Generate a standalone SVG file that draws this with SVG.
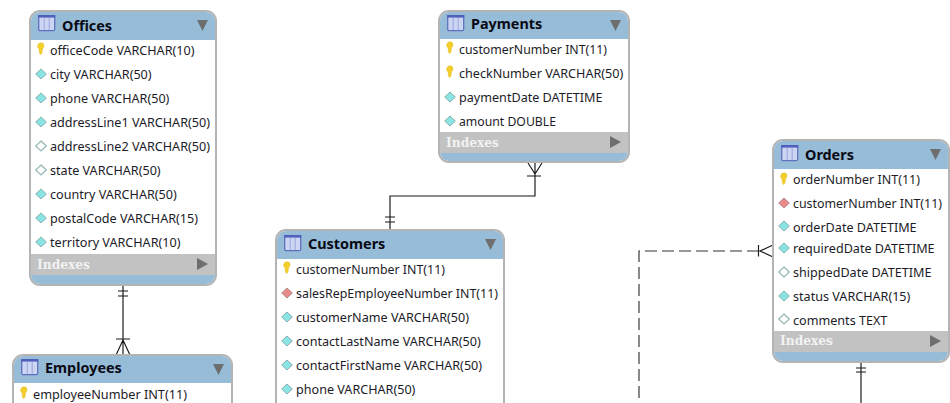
<svg xmlns="http://www.w3.org/2000/svg" width="950" height="403" viewBox="0 0 950 403">
<style>
.box{fill:#fff;stroke:#b4b4b4;stroke-width:2}
.hd{fill:#96bcd8}
.ix{fill:#c2c2c2}
.ttl{font:bold 14.4px "Noto Sans","Liberation Sans",sans-serif;fill:#0a0a14}
.row{font:12.6px "Noto Sans","Liberation Sans",sans-serif;fill:#1c1c28}
.idx{font:bold 13px "DejaVu Serif","Liberation Serif",serif;fill:#f2f2f2}
.tri{fill:#6e6e6e}
.cn{fill:none;stroke:#161616;stroke-width:1.15}
.ds{stroke-dasharray:12 5;stroke:#333}
</style>
<defs>
<g id="tbl"><rect x="0.7" y="0.7" width="16" height="15" rx="1.5" fill="#ccd5f2" stroke="#6070c0" stroke-width="1.3"/><rect x="0" y="0" width="17.4" height="2.600" fill="#5060bc"/><path d="M6.200 3v12M11.200 3v12" stroke="#9aa6dc" stroke-width="1"/></g>
<g id="key"><path d="M-3 -3.200a3 3 0 0 1 6 0c0 1.500-.8 2.300-1.500 3l-.5 4.300-1.500 1.500-1-1.500-.5-4.300c-.8-.7-1.500-1.500-1.500-3z" fill="#f4cf2c" stroke="#dcb81e" stroke-width=".5"/></g>
<path id="dia" d="M0 -5L5.300 0L0 5L-5.300 0z" fill="#8ae4e4" stroke="#86aeae" stroke-width="1"/>
<path id="dio" d="M0 -5L5.300 0L0 5L-5.300 0z" fill="#fff" stroke="#94b6b6" stroke-width="1.200"/>
<path id="dif" d="M0 -5L5.300 0L0 5L-5.300 0z" fill="#e68a8a" stroke="#b48888" stroke-width="1"/>
</defs>
<g id="connectors">
<path class="cn" d="M123 285V354M118 291H128M118 296H128M116 339H130M123 340L116.500 354M123 340L129.500 354"/>
<path class="cn" d="M535 163V196H390V230M385 217H395M385 222H395M527 176H541M535 174L528 163M535 174L542 163"/>
<path class="cn ds" d="M759 251H639V403"/>
<path class="cn" d="M758.500 245V256.500M773 245L760 251L773 257"/>
<path class="cn" d="M861 362V403M856 368H866M856 372H866"/>
</g>
<g id="offices">
<rect class="box" x="30" y="11" width="186" height="274" rx="10"/>
<path class="hd" d="M31 40V21a9 9 0 0 1 9-9H206a9 9 0 0 1 9 9V40z"/>
<path class="hd" d="M31 274V275a9 9 0 0 0 9 9H206a9 9 0 0 0 9-9V274z"/>
<rect class="ix" x="31" y="254" width="184" height="21"/>
<use href="#tbl" x="38" y="15"/>
<text class="ttl" x="62" y="31">Offices</text>
<path class="tri" d="M197 20H208L202.500 31z"/>
<use href="#key" x="41" y="49"/><text class="row" x="50" y="55">officeCode VARCHAR(10)</text>
<use href="#dia" x="41" y="74"/><text class="row" x="50" y="79">city VARCHAR(50)</text>
<use href="#dia" x="41" y="98"/><text class="row" x="50" y="103">phone VARCHAR(50)</text>
<use href="#dia" x="41" y="122"/><text class="row" x="50" y="127">addressLine1 VARCHAR(50)</text>
<use href="#dio" x="41" y="146"/><text class="row" x="50" y="151">addressLine2 VARCHAR(50)</text>
<use href="#dio" x="41" y="170"/><text class="row" x="50" y="175">state VARCHAR(50)</text>
<use href="#dia" x="41" y="194"/><text class="row" x="50" y="199">country VARCHAR(50)</text>
<use href="#dia" x="41" y="218"/><text class="row" x="50" y="223">postalCode VARCHAR(15)</text>
<use href="#dia" x="41" y="242"/><text class="row" x="50" y="247">territory VARCHAR(10)</text>
<text class="idx" x="37" y="269" textLength="53" lengthAdjust="spacingAndGlyphs">Indexes</text>
<path class="tri" d="M197 258L208 264L197 270z"/>
</g>
<g id="employees">
<rect class="box" x="13" y="355" width="219" height="60" rx="10"/>
<path class="hd" d="M14 383V365a9 9 0 0 1 9-9H222a9 9 0 0 1 9 9V383z"/>
<use href="#tbl" x="21" y="359"/>
<text class="ttl" x="45" y="373">Employees</text>
<path class="tri" d="M213 364H224L218.500 375z"/>
<use href="#key" x="24" y="393"/><text class="row" x="33" y="399" textLength="154" lengthAdjust="spacingAndGlyphs">employeeNumber INT(11)</text>
</g>
<g id="payments">
<rect class="box" x="439" y="11" width="190" height="151" rx="10"/>
<path class="hd" d="M440 39V21a9 9 0 0 1 9-9H619a9 9 0 0 1 9 9V39z"/>
<path class="hd" d="M440 152V152a9 9 0 0 0 9 9H619a9 9 0 0 0 9-9V152z"/>
<rect class="ix" x="440" y="132" width="188" height="21"/>
<use href="#tbl" x="447" y="15"/>
<text class="ttl" x="471" y="29">Payments</text>
<path class="tri" d="M610 20H621L615.500 31z"/>
<use href="#key" x="450" y="48"/><text class="row" x="459" y="54" textLength="148" lengthAdjust="spacingAndGlyphs">customerNumber INT(11)</text>
<use href="#key" x="450" y="72"/><text class="row" x="459" y="78">checkNumber VARCHAR(50)</text>
<use href="#dia" x="450" y="97"/><text class="row" x="459" y="102">paymentDate DATETIME</text>
<use href="#dia" x="450" y="121"/><text class="row" x="459" y="126" textLength="97" lengthAdjust="spacingAndGlyphs">amount DOUBLE</text>
<text class="idx" x="446" y="147" textLength="53" lengthAdjust="spacingAndGlyphs">Indexes</text>
<path class="tri" d="M610 136L621 142L610 148z"/>
</g>
<g id="customers">
<rect class="box" x="276" y="230" width="228" height="190" rx="10"/>
<path class="hd" d="M277 259V240a9 9 0 0 1 9-9H494a9 9 0 0 1 9 9V259z"/>
<use href="#tbl" x="284" y="235"/>
<text class="ttl" x="308" y="249">Customers</text>
<path class="tri" d="M485 239H496L490.500 250z"/>
<use href="#key" x="287" y="268"/><text class="row" x="296" y="274" textLength="149" lengthAdjust="spacingAndGlyphs">customerNumber INT(11)</text>
<use href="#dif" x="287" y="293"/><text class="row" x="296" y="298" textLength="202" lengthAdjust="spacingAndGlyphs">salesRepEmployeeNumber INT(11)</text>
<use href="#dia" x="287" y="317"/><text class="row" x="296" y="322">customerName VARCHAR(50)</text>
<use href="#dia" x="287" y="341"/><text class="row" x="296" y="346">contactLastName VARCHAR(50)</text>
<use href="#dia" x="287" y="365"/><text class="row" x="296" y="370">contactFirstName VARCHAR(50)</text>
<use href="#dia" x="287" y="389"/><text class="row" x="296" y="394">phone VARCHAR(50)</text>
</g>
<g id="orders">
<rect class="box" x="773" y="140" width="176" height="222" rx="10"/>
<path class="hd" d="M774 169V150a9 9 0 0 1 9-9H939a9 9 0 0 1 9 9V169z"/>
<path class="hd" d="M774 351V352a9 9 0 0 0 9 9H939a9 9 0 0 0 9-9V351z"/>
<rect class="ix" x="774" y="331" width="174" height="21"/>
<use href="#tbl" x="781" y="145"/>
<text class="ttl" x="805" y="160">Orders</text>
<path class="tri" d="M930 149H941L935.500 160z"/>
<use href="#key" x="784" y="179"/><text class="row" x="793" y="184" textLength="127" lengthAdjust="spacingAndGlyphs">orderNumber INT(11)</text>
<use href="#dif" x="784" y="203"/><text class="row" x="793" y="208" textLength="149" lengthAdjust="spacingAndGlyphs">customerNumber INT(11)</text>
<use href="#dia" x="784" y="226"/><text class="row" x="793" y="232">orderDate DATETIME</text>
<use href="#dia" x="784" y="248"/><text class="row" x="793" y="253">requiredDate DATETIME</text>
<use href="#dio" x="784" y="272"/><text class="row" x="793" y="277">shippedDate DATETIME</text>
<use href="#dia" x="784" y="296"/><text class="row" x="793" y="301">status VARCHAR(15)</text>
<use href="#dio" x="784" y="319"/><text class="row" x="793" y="325">comments TEXT</text>
<text class="idx" x="780" y="345" textLength="53" lengthAdjust="spacingAndGlyphs">Indexes</text>
<path class="tri" d="M930 335L941 341L930 347z"/>
</g>
</svg>
